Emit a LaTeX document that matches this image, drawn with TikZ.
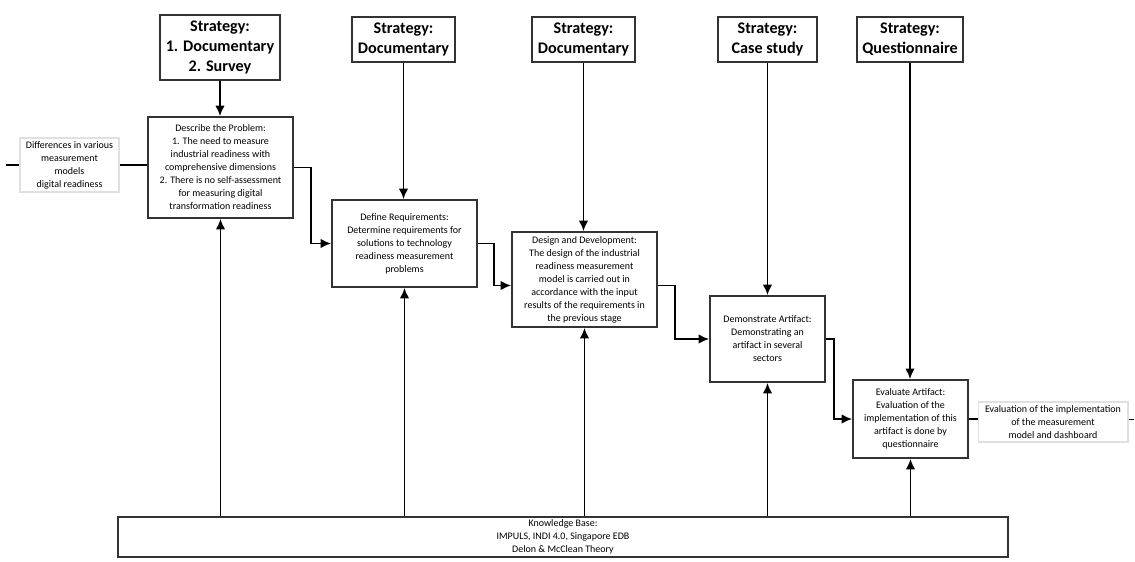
\documentclass[tikz,border=0pt]{standalone}
\usepackage{fontspec}
\setmainfont{Carlito}
\usepackage{tikz}
\usetikzlibrary{positioning, arrows.meta}

\begin{document}
\begin{tikzpicture}[
    x=0.02cm, y=-0.02cm,
    font=\fontsize{5.7}{7.4}\selectfont,
    strategy/.style={
        draw=black!80,
        line width=1pt,
        fill=white,
        align=center,
        inner sep=1pt,
        minimum height=0.9cm,
        font=\fontsize{9.2}{11.4}\selectfont\bfseries
    },
    process/.style={
        draw=black!80,
        line width=1pt,
        fill=white,
        align=center,
        inner sep=1pt,
        minimum width=2.9cm
    },
    note/.style={
        draw=black!12,
        line width=0.6pt,
        align=center,
        inner sep=1pt
    },
    arr/.style={-{Latex[length=2.1mm, width=1.9mm]}, line width=1pt},
    link/.style={line width=1pt}
]
\useasboundingbox (0,0) rectangle (1135,561);

% strategies
\node[strategy, minimum width=2.4cm, minimum height=1.3cm] (s1) at (220, 47.5) {Strategy:\\ 1. Documentary\\ 2. Survey};
\node[strategy, minimum width=2.06cm] (s2) at (403.5, 39.5) {Strategy:\\ Documentary};
\node[strategy, minimum width=2.06cm] (s3) at (583.5, 39.5) {Strategy:\\ Documentary};
\node[strategy, minimum width=1.98cm] (s4) at (767.5, 39.5) {Strategy:\\ Case study};
\node[strategy, minimum width=2.12cm] (s5) at (910, 39.5) {Strategy:\\ Questionnaire};

% process steps
\node[process, minimum height=2.02cm] (p1) at (220.5, 167.5) {Describe the Problem:\\ 1. The need to measure\\ industrial readiness with\\ comprehensive dimensions\\ 2. There is no self-assessment\\ for measuring digital\\ transformation readiness};
\node[process, minimum height=1.74cm] (p2) at (404.5, 243.5) {Define Requirements:\\ Determine requirements for\\ solutions to technology\\ readiness measurement\\ problems};
\node[process, minimum height=1.9cm] (p3) at (584.5, 279.5) {Design and Development:\\ The design of the industrial\\ readiness measurement\\ model is carried out in\\ accordance with the input\\ results of the requirements in\\ the previous stage};
\node[process, minimum width=2.3cm, minimum height=1.72cm] (p4) at (767.5, 339) {Demonstrate Artifact:\\ Demonstrating an\\ artifact in several\\ sectors};
\node[process, minimum width=2.3cm, minimum height=1.56cm] (p5) at (910.5, 419) {Evaluate Artifact:\\ Evaluation of the\\ implementation of this\\ artifact is done by\\ questionnaire};

% knowledge base
\node[process, minimum width=17.8cm, minimum height=0.8cm] (kb) at (563, 537) {Knowledge Base:\\ IMPULS, INDI 4.0, Singapore EDB\\ Delon \& McClean Theory};

% input and output
\node[note, minimum width=1.98cm, minimum height=1.08cm] (input) at (69.5, 165) {Differences in various\\ measurement\\ models\\ digital readiness};
\node[note, minimum width=3cm, minimum height=0.8cm] (output) at (1053, 422) {Evaluation of the implementation\\ of the measurement\\ model and dashboard};
\coordinate (inend) at (6, 165);
\coordinate (outend) at (1134, 419);

\draw[link] (inend) -- (input.west);
\draw[link] (input.east) -- (input.east -| p1.west);
\draw[link] (p5.east) -- (p5.east -| output.west);
\draw[link, line width=0.5pt] (output.east |- outend) -- (outend);

% strategy arrows
\foreach \n in {1,...,5}
    \draw[arr] (s\n.south) -- (s\n.south |- p\n.north);

% knowledge base arrows
\foreach \n in {1,...,5}
    \draw[arr] (kb.north -| p\n.south) -- (p\n.south);

% flow between steps
\draw[arr] (p1.east) -- ++(17,0) |- (p2.west);
\draw[arr] (p2.east) -- ++(16,0) |- ([yshift=-0.12cm]p3.west);
\draw[arr] ([yshift=-0.12cm]p3.east) -- ++(17,0) |- (p4.west);
\draw[arr] (p4.east) -- ++(8,0) |- (p5.west);

\end{tikzpicture}
\end{document}
